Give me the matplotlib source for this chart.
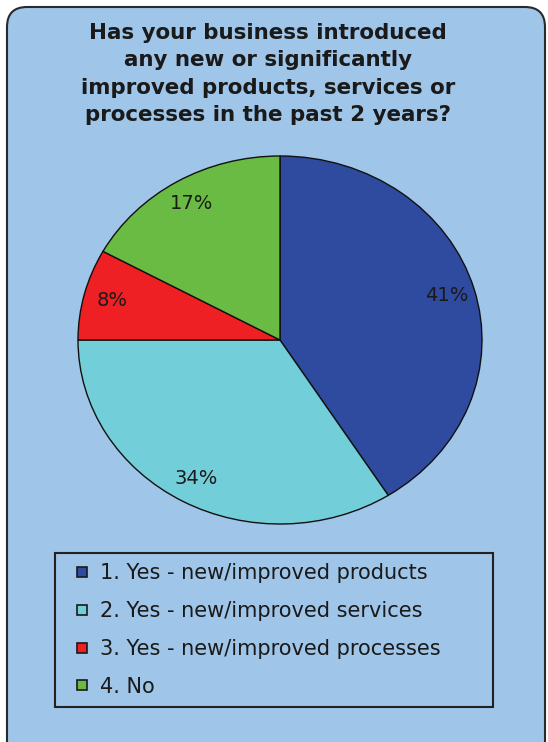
import matplotlib.pyplot as plt
from matplotlib.patches import FancyBboxPatch
from matplotlib.lines import Line2D

# данные
labels = ['1. Yes - new/improved products',
          '2. Yes - new/improved services',
          '3. Yes - new/improved processes',
          '4. No']
values = [41, 34, 8, 17]
colors = ['#2e4ba0', '#72cfd9', '#ee2024', '#6abb44']

bg = '#9fc5e8'
W, H = 548, 742

fig = plt.figure(figsize=(W / 100, H / 100), dpi=100)
fig.patch.set_facecolor('white')

# рамка с закруглёнными углами
frame = FancyBboxPatch((0.07, -0.3), 5.38, 7.65,
                       boxstyle='round,pad=0,rounding_size=0.2',
                       transform=fig.dpi_scale_trans,
                       facecolor=bg, edgecolor='#2a2a2a', linewidth=1.5,
                       zorder=-10)
fig.patches.append(frame)

fig.text(268 / W, 1 - 74 / H,
         'Has your business introduced\nany new or significantly\n'
         'improved products, services or\nprocesses in the past 2 years?',
         ha='center', va='center', fontsize=15.4, fontweight='bold',
         color='#1a1a1a', linespacing=1.47)

# круговая диаграмма (слегка сплюснута по вертикали, как в оригинале)
cx, cy, rx, ry = 280, 340, 202, 184
ax = fig.add_axes([(cx - rx) / W, 1 - (cy + ry) / H, 2 * rx / W, 2 * ry / H])
wedges, texts, autotexts = ax.pie(
    values, colors=colors, startangle=90, counterclock=False,
    autopct='%d%%', pctdistance=0.86,
    wedgeprops=dict(edgecolor='#111111', linewidth=1.0),
    textprops=dict(fontsize=14, color='#1a1a1a'))
ax.set_aspect('auto')
ax.set_xlim(-1.0, 1.0)
ax.set_ylim(-1.0, 1.0)
ax.axis('off')

# легенда
handles = [Line2D([], [], linestyle='none', marker='s', markersize=7,
                  markerfacecolor=c, markeredgecolor='#1a1a1a',
                  markeredgewidth=1.2) for c in colors]
leg = fig.legend(handles, labels, loc='upper left',
                 bbox_to_anchor=(55 / W, 1 - 708 / H, 438 / W, 155 / H),
                 mode='expand', fontsize=15, labelspacing=0.85,
                 handlelength=1.6, handletextpad=0.05, borderpad=0.5,
                 borderaxespad=0, fancybox=False, frameon=True,
                 labelcolor='#1a1a1a')
leg.get_frame().set_facecolor(bg)
leg.get_frame().set_edgecolor('#222222')
leg.get_frame().set_linewidth(1.5)
leg.get_frame().set_alpha(1)

fig.savefig('out.png', dpi=100, facecolor=fig.get_facecolor())
